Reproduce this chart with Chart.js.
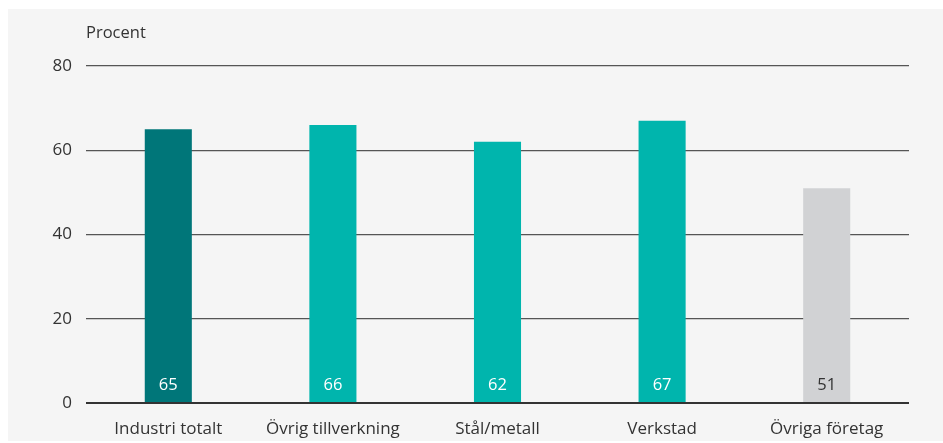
<!DOCTYPE html>
<html><head><meta charset="utf-8">
<script src="https://cdn.jsdelivr.net/npm/chart.js@4"></script>
<style>html,body{margin:0;padding:0;background:#fff;}#wrap{position:absolute;left:0;top:0;width:943px;height:443px;}</style>
</head><body><div id="wrap"><canvas id="c" width="943" height="443"></canvas></div>
<script>
const categories = ["Industri totalt", "Övrig tillverkning", "Stål/metall", "Verkstad", "Övriga företag"];
const values = [65, 66, 62, 67, 51];
const barColors = ["#007679", "#00b5ad", "#00b5ad", "#00b5ad", "#d1d2d4"];
const labelColors = ["#ffffff", "#ffffff", "#ffffff", "#ffffff", "#333333"];
const yTicks = [0, 20, 40, 60, 80];
const unitLabel = "Procent";
const FONT = "'Open Sans', sans-serif";

const bgPlugin = {
  id: 'bg',
  beforeDraw(chart) {
    const ctx = chart.ctx;
    ctx.save();
    ctx.fillStyle = '#f5f5f5';
    ctx.fillRect(8, 9, 935, 432);
    ctx.restore();
  },
  afterDraw(chart) {
    const ctx = chart.ctx;
    ctx.save();
    ctx.font = "16.5px " + FONT;
    ctx.fillStyle = '#333';
    ctx.textBaseline = 'middle';
    ctx.textAlign = 'left';
    ctx.fillText(unitLabel, chart.chartArea.left, 33);
    const meta = chart.getDatasetMeta(0);
    const y0 = chart.scales.y.getPixelForValue(0);
    ctx.textAlign = 'center';
    meta.data.forEach((bar, i) => {
      ctx.fillStyle = labelColors[i];
      ctx.fillText(String(values[i]), bar.x, y0 - 18);
    });
    ctx.restore();
  }
};

new Chart(document.getElementById('c'), {
  type: 'bar',
  data: {
    labels: categories,
    datasets: [{ data: values, backgroundColor: barColors, barPercentage: 0.286, categoryPercentage: 1.0 }]
  },
  options: {
    responsive: false,
    animation: false,
    plugins: { legend: { display: false }, tooltip: { enabled: false } },
    layout: { padding: { top: 66, right: 34, left: 0, bottom: 0 } },
    scales: {
      x: {
        grid: { display: false },
        border: { display: false },
        ticks: { color: '#333', font: { family: FONT, size: 17 }, padding: 8, maxRotation: 0 },
        afterFit(s) { s.height = 40; }
      },
      y: {
        min: 0, max: 80,
        afterBuildTicks(s) { s.ticks = yTicks.map(v => ({ value: v })); },
        grid: { drawTicks: false, color: c => c.tick && c.tick.value === 0 ? '#333' : '#555', lineWidth: c => c.tick && c.tick.value === 0 ? 2 : 1.2 },
        border: { display: false },
        ticks: { color: '#333', font: { family: FONT, size: 17 }, padding: 14 },
        afterFit(s) { s.width = 86; }
      }
    }
  },
  plugins: [bgPlugin]
});
</script></body></html>
